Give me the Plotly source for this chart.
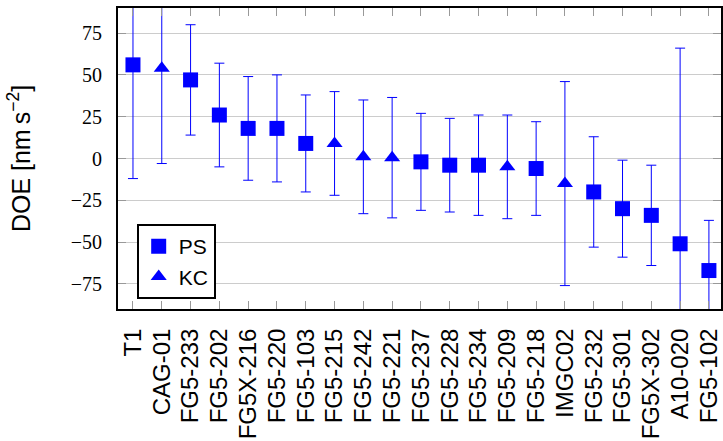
import plotly.graph_objects as go

stations = ["T1", "CAG-01", "FG5-233", "FG5-202", "FG5X-216", "FG5-220", "FG5-103",
            "FG5-215", "FG5-242", "FG5-221", "FG5-237", "FG5-228", "FG5-234", "FG5-209",
            "FG5-218", "IMGC02", "FG5-232", "FG5-301", "FG5X-302", "A10-020", "FG5-102"]
doe = [56, 54, 47, 26, 18, 18, 9, 9, 1, 0.5, -2, -4, -4, -5, -6, -15, -20, -30, -34, -51, -67]
unc = [68, 57, 33, 31, 31, 32, 29, 31, 34, 36, 29, 28, 30, 31, 28, 61, 33, 29, 30, 117, 30]
method = ["PS", "KC", "PS", "PS", "PS", "PS", "PS", "KC", "KC", "KC", "PS", "PS", "PS", "KC",
          "PS", "KC", "PS", "PS", "PS", "PS", "PS"]
y_ticks = [-75, -50, -25, 0, 25, 50, 75]

BLUE = "#0000ff"
fig = go.Figure()
for name, sym, size in [("PS", "square", 15), ("KC", "triangle-up", 14)]:
    idx = [i for i, m in enumerate(method) if m == name]
    fig.add_trace(go.Scatter(
        x=[stations[i] for i in idx], y=[doe[i] for i in idx],
        mode="markers", name=name,
        marker=dict(symbol=sym, size=size, color=BLUE, line=dict(width=0)),
        error_y=dict(type="data", array=[unc[i] for i in idx], color=BLUE,
                     thickness=1, width=5),
        cliponaxis=True,
    ))

fig.update_layout(
    width=723, height=441,
    margin=dict(l=118, r=0, t=8, b=132),
    paper_bgcolor="white", plot_bgcolor="white",
    showlegend=True,
    legend=dict(x=0.031, y=0.033, xanchor="left", yanchor="bottom",
                bordercolor="black", borderwidth=2, bgcolor="white",
                font=dict(family="Liberation Sans", size=21, color="black"),
                tracegroupgap=0, itemsizing="trace"),
)
fig.update_xaxes(
    type="category", categoryorder="array", categoryarray=stations,
    tickmode="array", tickvals=stations, ticktext=stations,
    range=[-0.52, 20.42],
    showline=True, linewidth=2, linecolor="black", mirror="ticks",
    ticks="inside", ticklen=8, tickcolor="#999999", tickwidth=1,
    showgrid=False, zeroline=False,
    tickangle=-90, ticklabelstandoff=8,
    tickfont=dict(family="Liberation Sans", size=24, color="black"),
)
fig.update_yaxes(
    range=[-90, 90], tickvals=y_ticks,
    showline=True, linewidth=2, linecolor="black", mirror="ticks",
    ticks="inside", ticklen=8, tickcolor="#999999", tickwidth=1,
    showgrid=True, gridcolor="#cccccc", gridwidth=1, zeroline=False,
    ticklabelstandoff=10,
    tickfont=dict(family="Liberation Serif", size=20, color="black"),
    title=dict(text="DOE [nm\u2009s<sup>\u22122</sup>]", standoff=33,
               font=dict(family="Liberation Sans", size=25, color="black")),
)
fig.write_html("out.html")
